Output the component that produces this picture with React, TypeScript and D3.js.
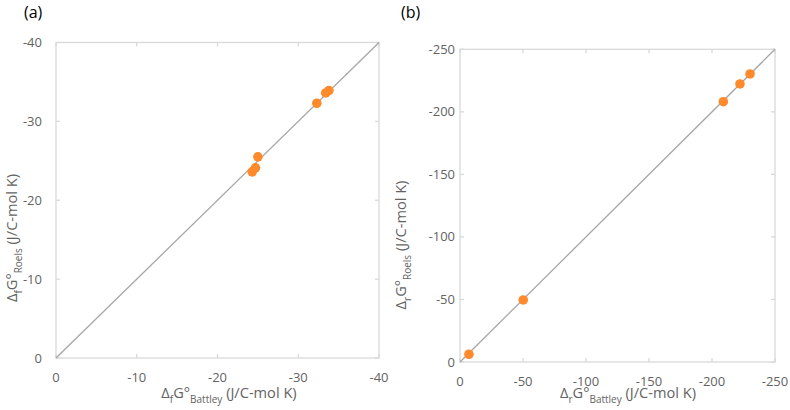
import React from "react";
import * as d3 from "d3";

// Panel (a) data: ΔfG° Battley vs Roels
const aBattley = [33.4, 33.8, 32.3, 25.0, 24.7, 24.3];
const aRoels = [33.6, 33.9, 32.3, 25.5, 24.1, 23.6];
const aTicks = [0, -10, -20, -30, -40];

// Panel (b) data: ΔrG° Battley vs Roels
const bBattley = [230.2, 222.2, 209.0, 50.2, 7.1];
const bRoels = [230.3, 222.3, 208.1, 49.6, 6.2];
const bTicks = [0, -50, -100, -150, -200, -250];

const FONT = "'Open Sans', 'Noto Sans', sans-serif";
const GREY = "#636363";
const FRAME = "#d9d9d9";
const DOT = "#ff8a2b";

type PanelProps = {
  label: string;
  sub: string;
  left: number;
  top: number;
  right: number;
  bottom: number;
  max: number;
  ticks: number[];
  xs: number[];
  ys: number[];
  labelX: number;
  xTitleX: number;
  xTitleY: number;
  yTitleX: number;
  yTitleY: number;
  yLabelX: number;
};

function Title({ sub, name }: { sub: string; name: string }) {
  return (
    <>
      <tspan>Δ</tspan>
      <tspan fontSize={10} dy={4.5}>{sub}</tspan>
      <tspan dy={-4.5}>G°</tspan>
      <tspan fontSize={10} dy={4.5}>{name}</tspan>
      <tspan dy={-4.5}> (J/C-mol K)</tspan>
    </>
  );
}

function Panel(p: PanelProps) {
  const x = d3.scaleLinear().domain([0, -p.max]).range([p.left, p.right]);
  const y = d3.scaleLinear().domain([0, -p.max]).range([p.bottom, p.top]);
  const tl = 4;
  return (
    <g>
      <text x={p.labelX} y={18} fontFamily={FONT} fontSize={16} fill="#000">
        {p.label}
      </text>
      <rect
        x={p.left}
        y={p.top}
        width={p.right - p.left}
        height={p.bottom - p.top}
        fill="none"
        stroke={FRAME}
        strokeWidth={1.3}
      />
      {p.ticks.map((t) => (
        <g key={"t" + t}>
          <line x1={x(t)} x2={x(t)} y1={p.bottom} y2={p.bottom - tl} stroke={FRAME} strokeWidth={1.3} />
          <line x1={x(t)} x2={x(t)} y1={p.top} y2={p.top + tl} stroke={FRAME} strokeWidth={1.3} />
          <line x1={p.left} x2={p.left + tl} y1={y(t)} y2={y(t)} stroke={FRAME} strokeWidth={1.3} />
          <line x1={p.right} x2={p.right - tl} y1={y(t)} y2={y(t)} stroke={FRAME} strokeWidth={1.3} />
          <text x={x(t)} y={p.bottom + 24} textAnchor="middle" fontFamily={FONT} fontSize={13} fill={GREY}>
            {t}
          </text>
          <text x={p.yLabelX} y={y(t) + 4.5} textAnchor="end" fontFamily={FONT} fontSize={13} fill={GREY}>
            {t}
          </text>
        </g>
      ))}
      <line x1={x(0)} y1={y(0)} x2={x(-p.max)} y2={y(-p.max)} stroke="#a6a6a6" strokeWidth={1.3} />
      {p.xs.map((v, i) => (
        <circle key={"c" + i} cx={x(-v)} cy={y(-p.ys[i])} r={4.8} fill={DOT} />
      ))}
      <text x={p.xTitleX} y={p.xTitleY} textAnchor="middle" fontFamily={FONT} fontSize={14.6} fill={GREY}>
        <Title sub={p.sub} name="Battley" />
      </text>
      <text
        transform={`translate(${p.yTitleX},${p.yTitleY}) rotate(-90)`}
        textAnchor="middle"
        fontFamily={FONT}
        fontSize={14.6}
        fill={GREY}
      >
        <Title sub={p.sub} name="Roels" />
      </text>
    </g>
  );
}

export default function App() {
  return (
    <svg width={790} height={410} style={{ display: "block", position: "absolute", left: 0, top: 0, background: "#fff" }}>
      <rect width={790} height={410} fill="#fff" />
      <Panel
        label="(a)"
        sub="f"
        left={56}
        top={42.5}
        right={379}
        bottom={358}
        max={40}
        ticks={aTicks}
        xs={aBattley}
        ys={aRoels}
        labelX={24}
        xTitleX={229}
        xTitleY={398}
        yTitleX={17}
        yTitleY={238}
        yLabelX={42}
      />
      <Panel
        label="(b)"
        sub="r"
        left={460}
        top={49.3}
        right={775}
        bottom={362}
        max={250}
        ticks={bTicks}
        xs={bBattley}
        ys={bRoels}
        labelX={401}
        xTitleX={628}
        xTitleY={398}
        yTitleX={406}
        yTitleY={245}
        yLabelX={455}
      />
    </svg>
  );
}
